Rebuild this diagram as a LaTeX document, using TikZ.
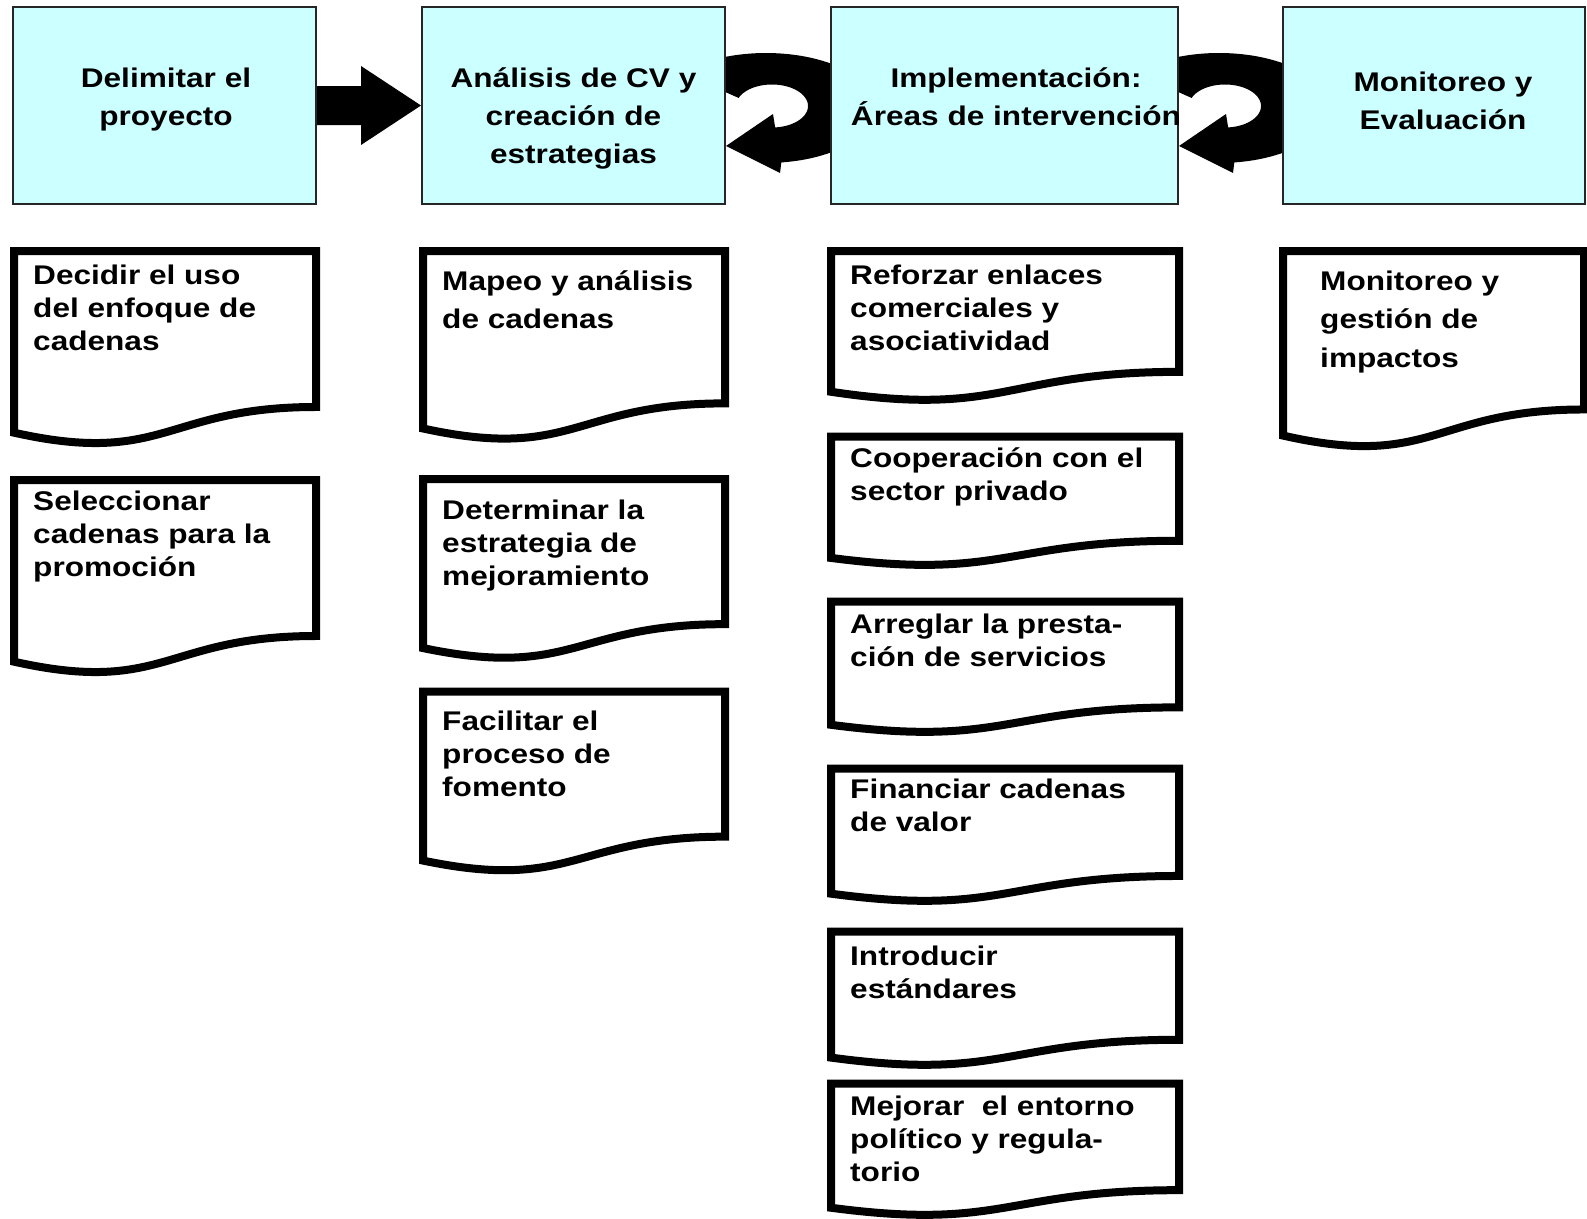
\documentclass[tikz,border=0pt]{standalone}
\usepackage{fontspec}
\newfontfamily\lab{Liberation Sans}[FakeStretch=1.17]
\usetikzlibrary{calc}
\definecolor{hcyan}{RGB}{204,255,255}
\pgfdeclarelayer{under}
\pgfsetlayers{under,main}
\tikzset{
  hbox/.style={draw=black!85, line width=2pt, fill=hcyan, inner sep=0pt},
  docline/.style={draw=black, line width=8pt, fill=white, line join=miter},
  hdtext/.style={font=\lab\bfseries\fontsize{27}{38}\selectfont, align=center, inner sep=0pt, anchor=base},
  dtext/.style={font=\lab\bfseries\fontsize{27}{33}\selectfont, align=left, inner sep=0pt, anchor=base west},
  dtextwide/.style={font=\lab\bfseries\fontsize{27}{38.5}\selectfont, align=left, inner sep=0pt, anchor=base west},
  arrowfill/.style={fill=black},
}
\newcommand{\mydoc}[5]{%
  \draw[docline] (#2,#3) coordinate (#1) -- ({#2+#4},#3) -- ({#2+#4},{#3+0.802*#5})
    .. controls ({#2+0.5*#4},{#3+0.802*#5}) and ({#2+0.5*#4},{#3+1.1075*#5}) .. (#2,{#3+0.934*#5}) -- cycle;}
\newcommand{\looparrow}[1]{%
  \begin{scope}[shift={(#1)}]
    \fill[arrowfill] plot[domain=-140:82,samples=90] ({40+110*cos(\x)},{2.5+55*sin(\x)})
      -- (54,67.5) -- (0,40.5) -- (47,8.5)
      -- plot[domain=85:-158,samples=90] ({46+36*cos(\x)},{0.5+21.5*sin(\x)}) -- cycle;
  \end{scope}}
\begin{document}
\begin{tikzpicture}[x=1pt,y=-1pt]
\begin{pgfonlayer}{under}
  \fill[white] (0,0) rectangle (1587,1218);
\end{pgfonlayer}
\useasboundingbox (0,0) rectangle (1587,1218);
% header boxes
\node[hbox, minimum width=303pt, minimum height=197pt] (h1) at (164.5,105.5) {};
\node[hbox, minimum width=303pt, minimum height=197pt] (h2) at (573.5,105.5) {};
\node[hbox, minimum width=347.5pt, minimum height=197pt] (h3) at (1004.25,105.5) {};
\node[hbox, minimum width=302pt, minimum height=197pt] (h4) at (1434,105.5) {};
% arrows (below the boxes)
\begin{pgfonlayer}{under}
  \fill[arrowfill] ($(h1.east)+(0,-19.5)$) -- ($(h1.east)+(44,-19.5)$) -- ($(h1.east)+(44,-39.5)$)
    -- (h2.west) -- ($(h1.east)+(44,39.5)$) -- ($(h1.east)+(44,19.5)$) -- ($(h1.east)+(0,19.5)$) -- cycle;
  \looparrow{h2.east}
  \looparrow{h3.east}
\end{pgfonlayer}
% header texts (anchor = baseline of the last line)
\node[hdtext] (t1) at (166,125) {Delimitar el\\proyecto};
\node[hdtext] (t2) at (573.5,163) {Análisis de CV y\\creación de\\estrategias};
\node[hdtext] (t3) at (1016,125) {Implementación:\\Áreas de intervención};
\node[hdtext] (t4) at (1443,129.5) {Monitoreo y\\Evaluación};
% documents
\mydoc{d11}{14}{251}{302}{194.5}
\mydoc{d12}{14}{480}{302}{194.5}
\mydoc{d21}{423}{251}{302}{190}
\mydoc{d22}{423}{479}{302}{181}
\mydoc{d23}{423}{691.5}{302}{181}
\mydoc{d31}{831}{251}{348}{150.7}
\mydoc{d32}{831}{436.5}{348}{130}
\mydoc{d33}{831}{601.5}{348}{132}
\mydoc{d34}{831}{768.5}{348}{134}
\mydoc{d35}{831}{931.5}{348}{135}
\mydoc{d36}{831}{1083.5}{348}{133}
\mydoc{d41}{1283}{251}{301}{197.6}
% document texts (anchor = baseline of the last line)
\node[dtext] (e11) at (33,350) {Decidir el uso\\del enfoque de\\cadenas};
\node[dtext] (e12) at (33,576) {Seleccionar\\cadenas para la\\promoción};
\node[dtextwide] (e21) at (442,328.5) {Mapeo y análisis\\de cadenas};
\node[dtext] (e22) at (442,585) {Determinar la\\estrategia de\\mejoramiento};
\node[dtext] (e23) at (442,796) {Facilitar el\\proceso de\\fomento};
\node[dtext] (e31) at (850,350) {Reforzar enlaces\\comerciales y\\asociatividad};
\node[dtext] (e32) at (850,500) {Cooperación con el\\sector privado};
\node[dtext] (e33) at (850,666) {Arreglar la presta-\\ción de servicios};
\node[dtext] (e34) at (850,831) {Financiar cadenas\\de valor};
\node[dtext] (e35) at (850,998) {Introducir\\estándares};
\node[dtext] (e36) at (850,1181) {Mejorar\ \ el entorno\\político y regula-\\torio};
\node[dtextwide] (e41) at (1320,367) {Monitoreo y\\gestión de\\impactos};
\end{tikzpicture}
\end{document}
